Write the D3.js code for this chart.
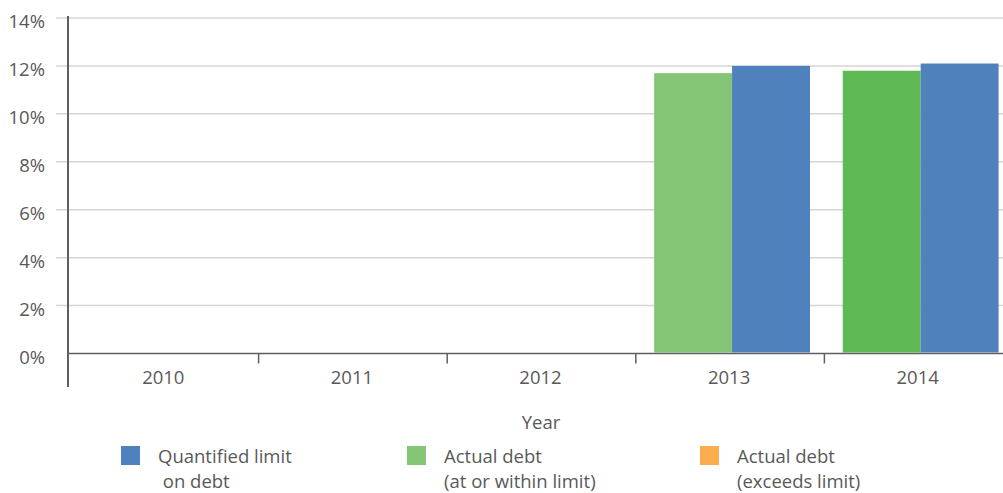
<!DOCTYPE html>
<html>
<head>
<meta charset="utf-8">
<script src="https://cdn.jsdelivr.net/npm/d3@7"></script>
<style>
  html, body { margin: 0; padding: 0; background: #fff; }
  svg { display: block; font-family: "Open Sans", sans-serif; }
</style>
</head>
<body>
<svg id="chart" width="1003" height="493"></svg>
<script>
// Debt as a share, by year
const years = ["2010", "2011", "2012", "2013", "2014"];
const limitOnDebt = [null, null, null, 12.0, 12.1];   // Quantified limit on debt (%)
const actualDebt  = [null, null, null, 11.7, 11.8];   // Actual debt (%)
const yTicks = [0, 2, 4, 6, 8, 10, 12, 14];
const seriesKeys = ["actual", "limit"];
const legendItems = [
  { lines: ["Quantified limit", " on debt"], color: "#4f81bd" },
  { lines: ["Actual debt", "(at or within limit)"], color: "#84c676" },
  { lines: ["Actual debt", "(exceeds limit)"], color: "#fbac4d" }
];

const svg = d3.select("#chart");
const textColor = "#595959";
const axisColor = "#5f5f5f";
const gridColor = "#d4d4d4";

const axisX = 68, baseY = 353.5;
const y = d3.scaleLinear().domain([0, 14]).range([baseY, 18]);
const x0 = d3.scaleBand().domain(years).range([70, 1013]);
const x1 = d3.scaleBand().domain(seriesKeys).range([0, x0.bandwidth()])
  .paddingInner(0).paddingOuter(0.21).align(0.56);

// Horizontal gridlines
svg.append("g").selectAll("line")
  .data(yTicks.filter(d => d > 0))
  .join("line")
  .attr("x1", 56).attr("x2", 1003)
  .attr("y1", d => y(d)).attr("y2", d => y(d))
  .attr("stroke", gridColor).attr("stroke-width", 1.5);

// Y tick labels
svg.append("g").selectAll("text")
  .data(yTicks)
  .join("text")
  .attr("x", 45)
  .attr("y", d => y(d) + 4)
  .attr("dy", "0.35em")
  .attr("text-anchor", "end")
  .attr("font-size", 18.5)
  .attr("fill", textColor)
  .text(d => d + "%");

// Bars
const rows = years.map((yr, i) => ({ year: yr, actual: actualDebt[i], limit: limitOnDebt[i] }));
const barColor = (key, yr) => key === "limit" ? "#4f81bd" : (yr === "2014" ? "#5fba55" : "#84c676");

svg.append("g").selectAll("g")
  .data(rows)
  .join("g")
  .attr("transform", d => `translate(${x0(d.year)},0)`)
  .selectAll("rect")
  .data(d => seriesKeys.filter(k => d[k] != null).map(k => ({ key: k, value: d[k], year: d.year })))
  .join("rect")
  .attr("x", d => x1(d.key))
  .attr("width", x1.bandwidth())
  .attr("y", d => y(d.value))
  .attr("height", d => y(0) - y(d.value) - 1)
  .attr("fill", d => barColor(d.key, d.year));

// X axis line and category ticks
svg.append("line")
  .attr("x1", axisX).attr("x2", 1003)
  .attr("y1", baseY).attr("y2", baseY)
  .attr("stroke", axisColor).attr("stroke-width", 1.5);

svg.append("g").selectAll("line")
  .data(years.slice(1))
  .join("line")
  .attr("x1", d => x0(d)).attr("x2", d => x0(d))
  .attr("y1", baseY).attr("y2", baseY + 10)
  .attr("stroke", axisColor).attr("stroke-width", 1.5);

// Y axis line
svg.append("line")
  .attr("x1", axisX).attr("x2", axisX)
  .attr("y1", 16).attr("y2", 387)
  .attr("stroke", axisColor).attr("stroke-width", 2);

// Category labels
svg.append("g").selectAll("text")
  .data(years)
  .join("text")
  .attr("x", d => x0(d) + x0.bandwidth() / 2 - 1)
  .attr("y", 384)
  .attr("text-anchor", "middle")
  .attr("font-size", 18.5)
  .attr("fill", textColor)
  .text(d => d);

// Axis title
svg.append("text")
  .attr("x", 541).attr("y", 429)
  .attr("text-anchor", "middle")
  .attr("font-size", 18.5)
  .attr("fill", textColor)
  .text("Year");

// Legend
const legendX = [121, 407, 700];
const lg = svg.append("g").selectAll("g")
  .data(legendItems)
  .join("g")
  .attr("transform", (d, i) => `translate(${legendX[i]},446)`);

lg.append("rect")
  .attr("width", 19).attr("height", 19)
  .attr("fill", d => d.color);

lg.each(function (d) {
  const t = d3.select(this).append("text")
    .attr("font-size", 18.5)
    .attr("fill", textColor)
    .attr("xml:space", "preserve");
  d.lines.forEach((ln, j) => {
    t.append("tspan")
      .attr("x", 37)
      .attr("y", 17 + j * 25)
      .text(ln);
  });
});
</script>
</body>
</html>
